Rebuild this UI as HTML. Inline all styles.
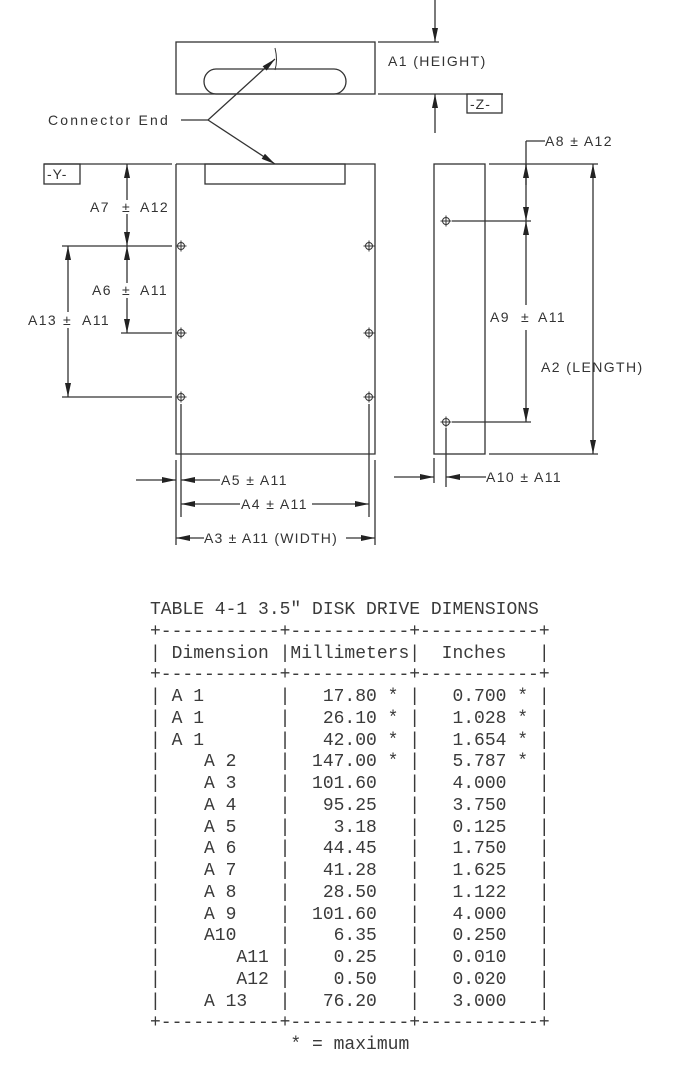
<!DOCTYPE html>
<html><head><meta charset="utf-8"><style>
html,body{margin:0;padding:0;background:#fff;width:675px;height:1067px;overflow:hidden;position:relative}
svg{position:absolute;left:0;top:0}
pre{position:absolute;left:150px;top:600px;margin:0;font-family:"Liberation Mono",monospace;font-size:18px;line-height:21.75px;color:#3a3a3a;}
</style></head><body>
<svg width="675" height="590" viewBox="0 0 675 590" xmlns="http://www.w3.org/2000/svg">
<defs>
<marker id="a" viewBox="0 0 14 6" refX="14" refY="3" markerWidth="15" markerHeight="6" orient="auto" markerUnits="userSpaceOnUse"><path d="M0,0L14,3L0,6z" fill="#222"/></marker>
<g id="h"><circle r="3.5" fill="none" stroke="#333" stroke-width="1"/><line x1="-5.5" y1="0" x2="5.5" y2="0" stroke="#333" stroke-width="1"/><line x1="0" y1="-5.5" x2="0" y2="5.5" stroke="#333" stroke-width="1"/></g>
</defs>
<g stroke="#333" stroke-width="1.3" fill="none">
<rect x="176" y="42" width="199" height="52"/>
<path d="M216,69 H334 A12,12.5 0 0 1 334,94 H216 A12,12.5 0 0 1 216,69 Z"/>
<path d="M275,48 Q278,60 275,70" stroke-width="1"/>
<line x1="378" y1="42" x2="439" y2="42"/>
<line x1="378" y1="94" x2="503" y2="94"/>
<line x1="435" y1="0" x2="435" y2="42" marker-end="url(#a)"/>
<line x1="435" y1="133" x2="435" y2="94" marker-end="url(#a)"/>
<rect x="467" y="94" width="35" height="19"/>
<polyline points="181,120 208,120 275,59" marker-end="url(#a)"/>
<line x1="208" y1="120" x2="275" y2="164" marker-end="url(#a)"/>
<polyline points="176,164 176,454 375,454 375,164 176,164"/>
<rect x="205" y="164" width="140" height="20"/>
<line x1="44" y1="164" x2="172" y2="164"/>
<rect x="44" y="164" width="36" height="20"/>
<line x1="62" y1="246" x2="172" y2="246"/>
<line x1="121" y1="333" x2="172" y2="333"/>
<line x1="62" y1="397" x2="172" y2="397"/>
<line x1="127" y1="200" x2="127" y2="164" marker-end="url(#a)"/>
<line x1="127" y1="214" x2="127" y2="246" marker-end="url(#a)"/>
<line x1="127" y1="283" x2="127" y2="246" marker-end="url(#a)"/>
<line x1="127" y1="298" x2="127" y2="333" marker-end="url(#a)"/>
<line x1="68" y1="312" x2="68" y2="246" marker-end="url(#a)"/>
<line x1="68" y1="328" x2="68" y2="397" marker-end="url(#a)"/>
<line x1="176" y1="460" x2="176" y2="545"/>
<line x1="375" y1="460" x2="375" y2="545"/>
<line x1="181" y1="404" x2="181" y2="517"/>
<line x1="369" y1="404" x2="369" y2="517"/>
<line x1="136" y1="480" x2="176" y2="480" marker-end="url(#a)"/>
<line x1="220" y1="480" x2="181" y2="480" marker-end="url(#a)"/>
<line x1="240" y1="504" x2="181" y2="504" marker-end="url(#a)"/>
<line x1="312" y1="504" x2="369" y2="504" marker-end="url(#a)"/>
<line x1="204" y1="538" x2="176" y2="538" marker-end="url(#a)"/>
<line x1="346" y1="538" x2="375" y2="538" marker-end="url(#a)"/>
<rect x="434" y="164" width="51" height="290"/>
<line x1="489" y1="164" x2="598" y2="164"/>
<line x1="489" y1="454" x2="598" y2="454"/>
<line x1="526" y1="141" x2="545" y2="141"/>
<line x1="526" y1="141" x2="526" y2="200"/>
<line x1="526" y1="185" x2="526" y2="164" marker-end="url(#a)"/>
<line x1="526" y1="200" x2="526" y2="221" marker-end="url(#a)"/>
<line x1="526" y1="305" x2="526" y2="221" marker-end="url(#a)"/>
<line x1="526" y1="330" x2="526" y2="422" marker-end="url(#a)"/>
<line x1="452" y1="221" x2="531" y2="221"/>
<line x1="452" y1="422" x2="531" y2="422"/>
<line x1="593" y1="300" x2="593" y2="164" marker-end="url(#a)"/>
<line x1="593" y1="300" x2="593" y2="454" marker-end="url(#a)"/>
<line x1="434" y1="458" x2="434" y2="483"/>
<line x1="446" y1="428" x2="446" y2="487"/>
<line x1="394" y1="477" x2="434" y2="477" marker-end="url(#a)"/>
<line x1="486" y1="477" x2="446" y2="477" marker-end="url(#a)"/>
</g>
<use href="#h" x="181" y="246"/><use href="#h" x="369" y="246"/>
<use href="#h" x="181" y="333"/><use href="#h" x="369" y="333"/>
<use href="#h" x="181" y="397"/><use href="#h" x="369" y="397"/>
<use href="#h" x="446" y="221"/><use href="#h" x="446" y="422"/>
<g font-family="Liberation Sans, sans-serif" font-size="14" letter-spacing="1.4" fill="#333">
<text x="388" y="66">A1 (HEIGHT)</text>
<text x="470" y="109" letter-spacing="1">-Z-</text>
<text x="48" y="125" letter-spacing="2.2">Connector End</text>
<text x="47" y="179" letter-spacing="1">-Y-</text>
<text x="90" y="212">A7</text><text x="122" y="212">±</text><text x="140" y="212">A12</text>
<text x="92" y="295">A6</text><text x="122" y="295">±</text><text x="140" y="295">A11</text>
<text x="28" y="325">A13</text><text x="63" y="325">±</text><text x="82" y="325">A11</text>
<text x="545" y="146">A8 ± A12</text>
<text x="490" y="322">A9</text><text x="521" y="322">±</text><text x="538" y="322">A11</text>
<text x="541" y="372">A2 (LENGTH)</text>
<text x="221" y="485">A5 ± A11</text>
<text x="241" y="509">A4 ± A11</text>
<text x="204" y="543" letter-spacing="1.2">A3 ± A11 (WIDTH)</text>
<text x="486" y="482">A10 ± A11</text>
</g>
</svg>
<pre>TABLE 4-1 3.5" DISK DRIVE DIMENSIONS
+-----------+-----------+-----------+
| Dimension |Millimeters|  Inches   |
+-----------+-----------+-----------+
| A 1       |   17.80 * |   0.700 * |
| A 1       |   26.10 * |   1.028 * |
| A 1       |   42.00 * |   1.654 * |
|    A 2    |  147.00 * |   5.787 * |
|    A 3    |  101.60   |   4.000   |
|    A 4    |   95.25   |   3.750   |
|    A 5    |    3.18   |   0.125   |
|    A 6    |   44.45   |   1.750   |
|    A 7    |   41.28   |   1.625   |
|    A 8    |   28.50   |   1.122   |
|    A 9    |  101.60   |   4.000   |
|    A10    |    6.35   |   0.250   |
|       A11 |    0.25   |   0.010   |
|       A12 |    0.50   |   0.020   |
|    A 13   |   76.20   |   3.000   |
+-----------+-----------+-----------+
             * = maximum</pre>
</body></html>
